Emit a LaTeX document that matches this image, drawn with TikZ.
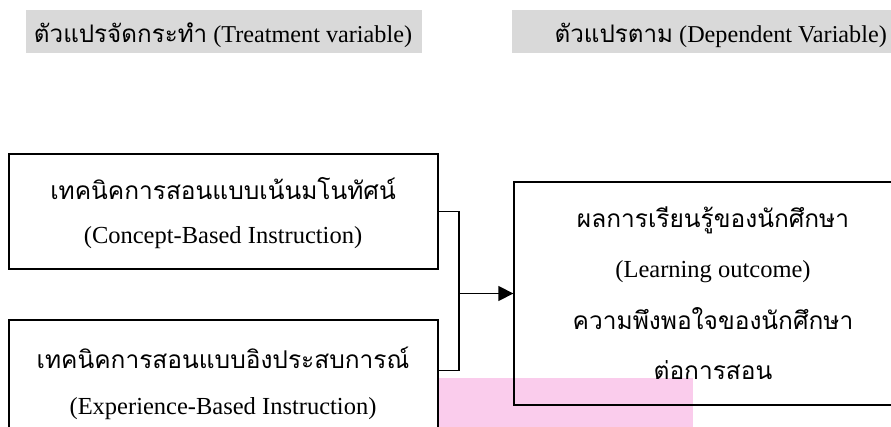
\documentclass[tikz,border=0pt]{standalone}
\usepackage{fontspec}
\setmainfont{Liberation Serif}
\newfontfamily\thai[Script=Thai]{Loma}
\usetikzlibrary{arrows.meta}
\definecolor{hdrgray}{RGB}{217,217,217}
\definecolor{pinkfill}{RGB}{250,204,236}
\begin{document}
\begin{tikzpicture}[x=1pt,y=-1pt,
  boxshape/.style={draw=black,line width=1.3pt,fill=none,inner sep=0pt},
  conn/.style={draw=black,line width=1.3pt},
  arr/.style={conn,-{Triangle[length=15pt,width=15pt]}},
  hdrtext/.style={anchor=base,inner sep=0pt,font=\fontsize{24.2}{28}\selectfont},
  bodytext/.style={anchor=base,inner sep=0pt,font=\fontsize{24.5}{28}\selectfont}]
\useasboundingbox (0,0) rectangle (891,427);
\clip (0,0) rectangle (891,427);
% background patches
\fill[pinkfill] (438,378) rectangle (693,427);
\fill[hdrgray] (26,10) rectangle (422,53);
\fill[hdrgray] (512,10) rectangle (945,53);
% header labels
\node[hdrtext] (h1) at (223,43) {{\thai ตัวแปรจัดกระทำ} (Treatment variable)};
\node[hdrtext,anchor=base east] (h2) at (887,43) {{\thai ตัวแปรตาม} (Dependent Variable)};
% boxes
\node[boxshape,minimum width=429pt,minimum height=115pt] (box1) at (223.5,211.5) {};
\node[boxshape,minimum width=429pt,minimum height=160pt] (box2) at (223.5,400) {};
\node[boxshape,minimum width=398pt,minimum height=223pt] (outbox) at (713,293.5) {};
% box texts
\node[bodytext] (t1a) at (223,200) {\thai เทคนิคการสอนแบบเน้นมโนทัศน์};
\node[bodytext] (t1b) at (223,244) {(Concept-Based Instruction)};
\node[bodytext] (t2a) at (223,368) {\thai เทคนิคการสอนแบบอิงประสบการณ์};
\node[bodytext] (t2b) at (223,414) {(Experience-Based Instruction)};
\node[bodytext] (t3a) at (713,228) {\thai ผลการเรียนรู้ของนักศึกษา};
\node[bodytext] (t3b) at (713,278) {(Learning outcome)};
\node[bodytext] (t3c) at (713,330) {\thai ความพึงพอใจของนักศึกษา};
\node[bodytext] (t3d) at (713,379) {\thai ต่อการสอน};
% connectors
\coordinate (bus) at (459,293.5);
\draw[conn] (box1.east) -| (bus) |- ([yshift=-51pt]box2.north east);
\draw[arr] (bus) -- (outbox.west);
\end{tikzpicture}
\end{document}
